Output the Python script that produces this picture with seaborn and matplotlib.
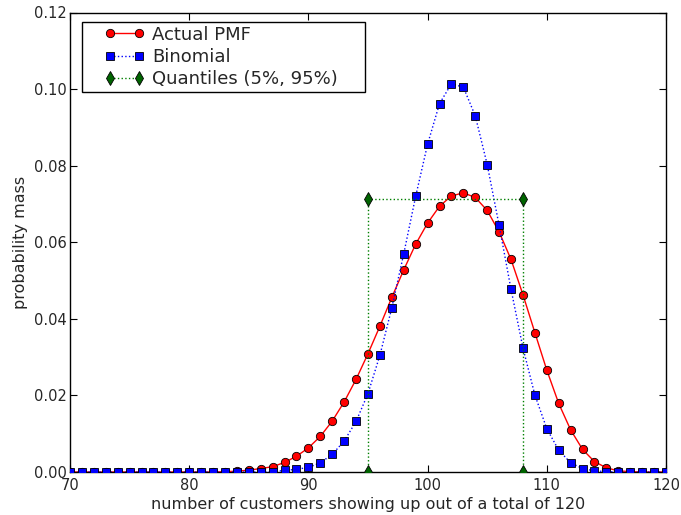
import matplotlib
matplotlib.use("Agg")
import matplotlib.pyplot as plt
from matplotlib.patches import Rectangle
import seaborn as sns
import numpy as np

# ---- data ----
x_vals = list(range(70, 121))

actual_pmf = [0.0] * 13 + [  # 70-82
    0.0001, 0.0002, 0.0005, 0.0009, 0.0014, 0.0025, 0.0041,   # 83-89
    0.0063, 0.0093, 0.0133, 0.0183, 0.0242, 0.0309, 0.0381,   # 90-96
    0.0456, 0.0528, 0.0595, 0.0650, 0.0694, 0.0721, 0.0729,   # 97-103
    0.0717, 0.0683, 0.0627, 0.0555, 0.0463, 0.0364, 0.0266,   # 104-110
    0.0179, 0.0110, 0.0059, 0.0027, 0.0011, 0.0003, 0.0001,   # 111-117
    0.0, 0.0, 0.0]                                            # 118-120

binomial = [0.0] * 17 + [  # 70-86
    0.0001, 0.0004, 0.0007,                                   # 87-89
    0.0012, 0.0024, 0.0046, 0.0081, 0.0132, 0.0205, 0.0305,   # 90-96
    0.0429, 0.0570, 0.0720, 0.0856, 0.0962, 0.1014, 0.1005,   # 97-103
    0.0930, 0.0803, 0.0644, 0.0477, 0.0324, 0.0201, 0.0113,   # 104-110
    0.0057, 0.0024, 0.0009, 0.0003, 0.0001,                   # 111-115
    0.0, 0.0, 0.0, 0.0, 0.0]                                  # 116-120

quantile_x = [95, 95, 108, 108]
quantile_y = [0.0, 0.0713, 0.0713, 0.0]

series_labels = ["Actual PMF", "Binomial", "Quantiles (5%, 95%)"]

# ---- style ----
sns.set_style("ticks")
plt.rcParams["font.family"] = ["DejaVu Sans"]
plt.rcParams["xtick.direction"] = "in"
plt.rcParams["ytick.direction"] = "in"

W, H = 681, 515
fig = plt.figure(figsize=(W / 100, H / 100), dpi=100)
ax = fig.add_axes([70 / W, (H - 472) / H, (666 - 70) / W, (472 - 12.5) / H])

sns.lineplot(x=x_vals, y=actual_pmf, ax=ax, color="red", linestyle="-", lw=1.0,
             marker="o", markersize=6, markeredgecolor="black", markeredgewidth=0.6,
             label=series_labels[0], estimator=None, sort=False, zorder=3)
sns.lineplot(x=x_vals, y=binomial, ax=ax, color="blue", linestyle=":", lw=1.0,
             marker="s", markersize=5.5, markeredgecolor="black", markeredgewidth=0.6,
             label=series_labels[1], estimator=None, sort=False, zorder=4)
sns.lineplot(x=quantile_x, y=quantile_y, ax=ax, color="green", linestyle=":", lw=1.0,
             marker="d", markersize=7, markeredgecolor="black", markeredgewidth=0.6,
             markerfacecolor="darkgreen",
             label=series_labels[2], estimator=None, sort=False, zorder=5)

ax.set_xlim(70, 120)
ax.set_ylim(0, 0.12)
ax.set_xticks([70, 80, 90, 100, 110, 120])
ax.set_yticks([0.0, 0.02, 0.04, 0.06, 0.08, 0.10, 0.12])
ax.set_yticklabels(["0.00", "0.02", "0.04", "0.06", "0.08", "0.10", "0.12"])
ax.tick_params(axis="both", which="both", direction="in", top=True, right=True,
               labelsize=10.5, length=5, width=0.8, color="black")
ax.tick_params(axis="x", pad=4)
ax.tick_params(axis="y", pad=2.5)
for s in ax.spines.values():
    s.set_visible(True)
    s.set_color("black")
    s.set_linewidth(1.0)

ax.set_xlabel("number of customers showing up out of a total of 120", fontsize=11.5, labelpad=3)
ax.set_ylabel("probability mass", fontsize=11.5, labelpad=4)

# legend frame (old-style box) and entries
frame = Rectangle((82 / W, (H - 92) / H), (365 - 82) / W, (92 - 22) / H,
                  transform=fig.transFigure, facecolor="white", edgecolor="black",
                  linewidth=1.0, zorder=6, clip_on=False)
ax.add_patch(frame)
leg = ax.legend(loc="upper left", bbox_to_anchor=(104.6 / W, (H - 25.5) / H),
                bbox_transform=fig.transFigure, numpoints=2, fontsize=13,
                frameon=False, borderpad=0, borderaxespad=0, handlelength=2.2,
                handletextpad=0.42, labelspacing=0.24)
leg.set_zorder(7)

fig.savefig("out.png", dpi=100)
